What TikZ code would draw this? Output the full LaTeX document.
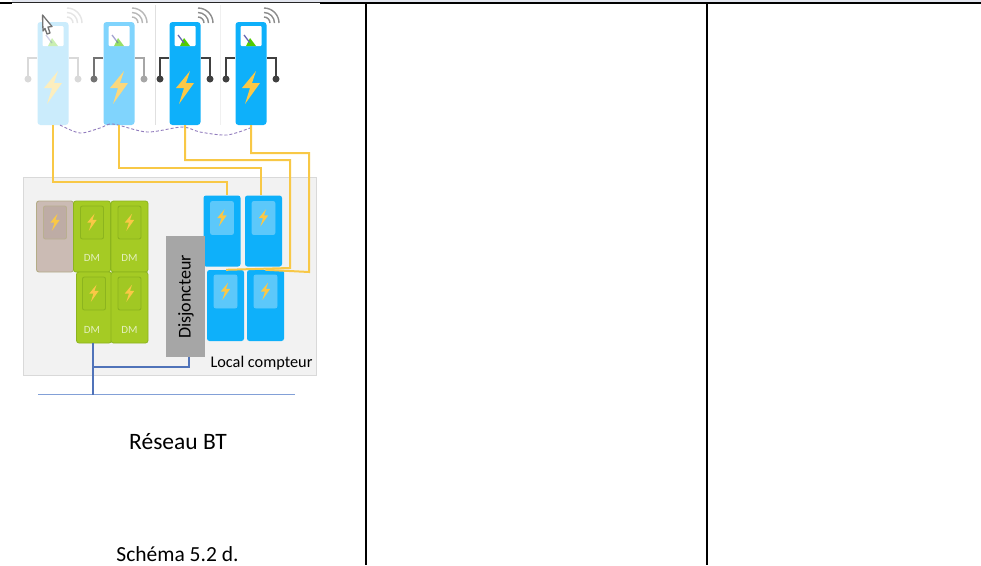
\documentclass[tikz,border=0pt]{standalone}
\usepackage{xcolor}
\usepackage{fontspec}
\setmainfont{Carlito}
\usepackage{tikz}
\usetikzlibrary{positioning, calc}
\definecolor{podpale}{RGB}{203,236,252}
\definecolor{podmid}{RGB}{128,212,253}
\definecolor{podfull}{RGB}{14,176,250}
\definecolor{boltpale}{RGB}{252,238,190}
\definecolor{boltfull}{RGB}{250,200,70}
\definecolor{wireyel}{RGB}{248,200,70}
\definecolor{mygreen}{RGB}{165,203,36}
\definecolor{dkgreen}{RGB}{140,180,30}
\definecolor{mybeige}{RGB}{203,187,180}
\definecolor{mybeiged}{RGB}{180,172,135}
\definecolor{winbeige}{RGB}{190,172,165}
\definecolor{winblue}{RGB}{92,200,250}
\definecolor{localbg}{RGB}{242,242,242}
\definecolor{localln}{RGB}{217,217,217}
\definecolor{netblue}{RGB}{80,115,185}
\definecolor{netlight}{RGB}{130,160,215}
\definecolor{bandgray}{RGB}{226,229,238}
\tikzset{
  podnode/.style={rectangle, inner sep=0pt, minimum width=31pt, minimum height=103pt, rounded corners=3pt},
  meterbox/.style={rectangle, inner sep=0pt, minimum width=37pt, minimum height=71pt, rounded corners=2.5pt},
  greenbox/.style={meterbox, fill=mygreen, draw=dkgreen, line width=0.8pt},
  bluebox/.style={meterbox, fill=podfull},
  wire/.style={wireyel, line width=2pt},
  netline/.style={netblue, line width=1.5pt},
  dmtext/.style={font=\fontsize{11}{11}\selectfont, text=white!70!mygreen, inner sep=0pt},
  textlabel/.style={font=\fontsize{23.5}{25}\selectfont, text=black, inner sep=0pt}
}
% lightning bolt: x, y, scale, colour
\newcommand{\boltat}[4]{%
  \fill[#4, shift={(#1,#2)}, scale=#3] (5,-17) -- (-9,0) -- (-1,0) -- (-6,16) -- (9,-5) -- (1,-5) -- cycle;}
% wifi arcs: x, y, colour
\newcommand{\wifiat}[3]{%
  \begin{scope}[shift={(#1,#2)}, #3, line width=1.4pt]
    \foreach \r in {6,10.5,15}
      \draw (0,-\r) .. controls (0.55*\r,-\r) and (\r,-0.55*\r) .. (\r,0);
  \end{scope}}
% screen and needle: x of pod centre, colour strength
\newcommand{\screenat}[2]{%
  \fill[white, rounded corners=1pt] (#1-10.5,26) rectangle (#1+10.5,46);
  \fill[green!60!yellow!80!black, opacity=#2] (#1-5,46) -- (#1+5,46) -- (#1-1,38) -- cycle;
  \draw[black!50!blue!60, line width=1.3pt, opacity=#2] (#1-7,35) -- (#1-1,43);}
% small window with bolt: x, y, window colour, edge colour, bolt colour
\newcommand{\windowat}[5]{%
  \filldraw[fill=#3, draw=#4, line width=0.9pt, rounded corners=2pt] (#1-11.5,#2-16.5) rectangle (#1+11.5,#2+16.5);
  \boltat{#1}{#2}{0.52}{#5}}
% stubs either side of a pod: x of pod centre, left colour, right colour
\newcommand{\stubsat}[3]{%
  \draw[#2, line width=1.4pt] (#1-16,58) -| (#1-25,78);
  \fill[#2] (#1-25,79) circle (3.5);
  \draw[#3, line width=1.4pt] (#1+16,58) -| (#1+25,78);
  \fill[#3] (#1+25,79) circle (3.5);}
\begin{document}
\begin{tikzpicture}[x=1pt, y=-1pt]
  \useasboundingbox (0,0) rectangle (981,565);
  \fill[white] (0,0) rectangle (981,565);

  % table rules
  \fill[bandgray] (12,0) rectangle (981,2);
  \draw[black, line width=1.4pt] (0,3) -- (12,3);
  \draw[black!85, line width=1pt] (12,2.5) -- (320,2.5);
  \draw[black, line width=1.4pt] (320,3) -- (981,3);
  \draw[black, line width=1.6pt] (366,3) -- (366,565);
  \draw[black, line width=1.6pt] (707,3) -- (707,565);

  % faint separators
  \draw[black!12, line width=1pt] (155,5) -- (155,125);
  \draw[black!6, line width=1pt] (220,5) -- (220,125);

  % stubs
  \stubsat{53}{black!15}{black!15}
  \stubsat{119}{black!55}{black!35}
  \stubsat{185}{black!75}{black!75}
  \stubsat{251}{black!75}{black!75}

  % charging points
  \node[podnode, fill=podpale] (pod1) at (53,73.5) {};
  \node[podnode, fill=podmid] (pod2) at (119,73.5) {};
  \node[podnode, fill=podfull] (pod3) at (185,73.5) {};
  \node[podnode, fill=podfull] (pod4) at (251,73.5) {};
  \screenat{53}{0.3}
  \screenat{119}{0.6}
  \screenat{185}{1}
  \screenat{251}{1}
  \boltat{53}{88}{1}{boltpale}
  \boltat{119}{88}{1}{boltfull!70!white}
  \boltat{185}{88}{1}{boltfull}
  \boltat{251}{88}{1}{boltfull}
  \wifiat{67}{23}{black!10}
  \wifiat{132}{23}{black!28}
  \wifiat{198}{23}{black!45}
  \wifiat{264}{23}{black!45}

  % pointer
  \draw[black!55, fill=white, line width=1.3pt, line join=round]
    (42.5,15) -- (52,26.5) -- (48,27) -- (50,33) -- (47,34) -- (45,28.5) -- (43,31) -- cycle;

  % dashed link between the points
  \draw[netblue!60!violet!70, densely dashed, line width=0.9pt] plot[smooth] coordinates
    {(60,125) (80,133) (100,128) (113,124) (147,132) (182,127) (200,132) (227,135) (250,128)};

  % meter room
  \node[rectangle, draw=localln, fill=localbg, inner sep=0pt, minimum width=293pt, minimum height=198pt] (local) at (169.5,276) {};

  % meters
  \node[meterbox, fill=mybeige, draw=mybeiged, line width=0.9pt] (beige) at (55,236.5) {};
  \node[greenbox] (green1) at (92,236.5) {};
  \node[greenbox] (green2) at (129.5,236.5) {};
  \node[greenbox, minimum width=35pt] (green3) at (94,307.5) {};
  \node[greenbox] (green4) at (129.5,307.5) {};
  \node[bluebox] (bluea) at (222,231) {};
  \node[bluebox] (blueb) at (263.5,231) {};
  \node[bluebox] (bluec) at (225.5,305.5) {};
  \node[bluebox] (blued) at (265.5,305.5) {};
  \windowat{55}{222.5}{winbeige}{mybeiged!80!mybeige}{boltfull}
  \windowat{92}{222.5}{mygreen!85!dkgreen}{dkgreen}{boltfull}
  \windowat{129.5}{222.5}{mygreen!85!dkgreen}{dkgreen}{boltfull}
  \windowat{94}{293.5}{mygreen!85!dkgreen}{dkgreen}{boltfull}
  \windowat{129.5}{293.5}{mygreen!85!dkgreen}{dkgreen}{boltfull}
  \windowat{222}{218}{winblue}{winblue}{boltfull}
  \windowat{263.5}{218}{winblue}{winblue}{boltfull}
  \windowat{225.5}{291.5}{winblue}{winblue}{boltfull}
  \windowat{265.5}{291.5}{winblue}{winblue}{boltfull}
  \node[dmtext] (dm1) at (92,258) {DM};
  \node[dmtext] (dm2) at (129.5,258) {DM};
  \node[dmtext] (dm3) at (92,330) {DM};
  \node[dmtext] (dm4) at (129.5,330) {DM};

  % breaker
  \node[rectangle, fill=black!35, inner sep=0pt, minimum width=39pt, minimum height=121pt] (disj) at (185.5,296.5) {};
  \node[rotate=90, font=\fontsize{18}{20}\selectfont, inner sep=0pt] (disjtext) at (186,297) {Disjoncteur};

  % yellow wires
  \coordinate (w3) at (290,268);
  \coordinate (w4) at (309,272);
  \draw[wire] (pod1.south) -- ++(0,57) -| ([xshift=5pt]bluea.north);
  \draw[wire] (pod2.south) -- ++(0,43) -| ([xshift=-3pt]blueb.north);
  \draw[wire] (pod3.south) -- ++(0,35) -| (w3) -- ([xshift=-18pt]bluec.north east);
  \draw[wire] (pod4.south) -- ++(0,28) -| (w4) -- (blued.north);

  % network
  \coordinate (mainl) at (38,394.5);
  \coordinate (mainr) at (295,394.5);
  \coordinate (tap) at (93,394.5);
  \coordinate (tapk) at (93,367);
  \draw[netlight, line width=1.6pt] (mainl) -- (mainr);
  \draw[netline] (green3.south -| tap) -- (tap);
  \draw[netline] (disj.south -| 189,0) |- (tapk);

  % labels
  \node[font=\fontsize{16.3}{18}\selectfont, inner sep=0pt] (locallabel) at (261.5,363) {Local compteur};
  \node[textlabel] (reseau) at (178,442) {Réseau BT};
  \node[font=\fontsize{21.5}{23}\selectfont, inner sep=0pt, anchor=base] (schema) at (177.5,561.5) {Schéma 5.2 d.};
\end{tikzpicture}
\end{document}
